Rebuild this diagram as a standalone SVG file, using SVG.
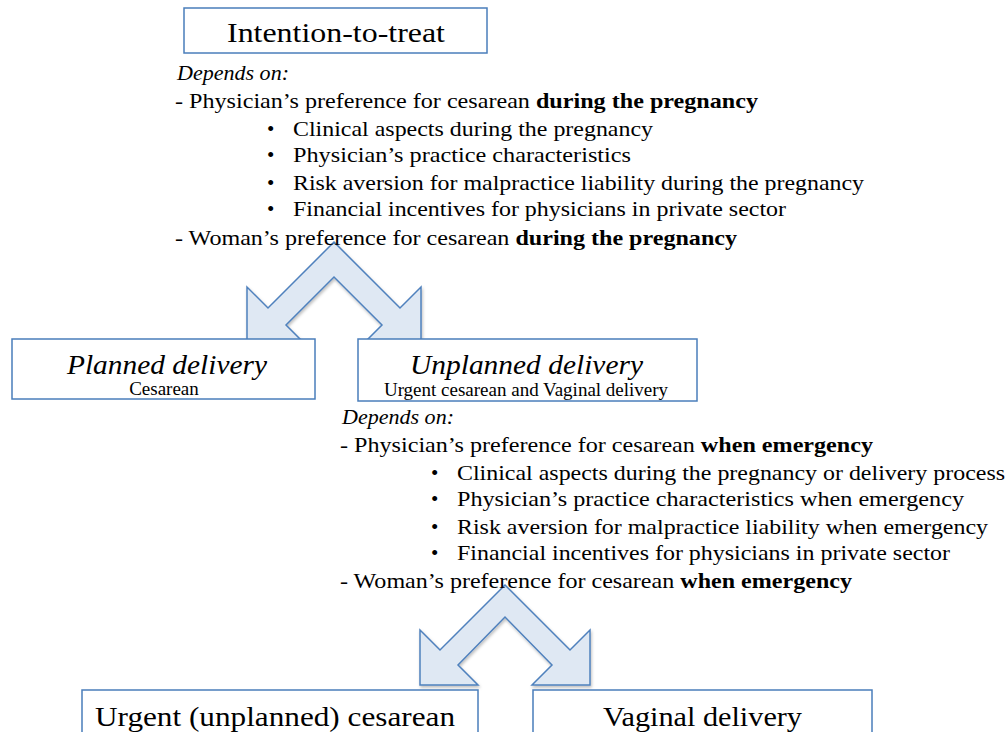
<svg xmlns="http://www.w3.org/2000/svg" width="1008" height="732" viewBox="0 0 1008 732">
<style>
  .box { fill: #ffffff; stroke: #4a7ebb; stroke-width: 1.5; }
  .arrow { fill: #dfe8f3; stroke: #4f81bd; stroke-width: 1.5; stroke-linejoin: miter; }
  .t { font-family: "Liberation Serif", "Times New Roman", serif; fill: #000000; }
  .body { font-size: 21px; }
  .big { font-size: 27px; }
  .sub { font-size: 19px; }
  .it { font-style: italic; }
  .b { font-weight: bold; }
</style>
<defs>
  <filter id="shadow" x="-10%" y="-10%" width="130%" height="130%">
    <feDropShadow dx="1" dy="2" stdDeviation="1.5" flood-color="#000000" flood-opacity="0.25"/>
  </filter>
</defs>
<rect width="1008" height="732" fill="#ffffff"/>

<g id="connectors">
  <path id="arrow-top" class="arrow" filter="url(#shadow)" d="M334,242 L400,308 L421,287 L421,345 L362,345 L382,325 L334,277 L286,325 L306,345 L247,345 L247,287 L268,308 Z"/>
  <path id="arrow-bottom" class="arrow" filter="url(#shadow)" d="M505,585 L570,650 L590,630 L590,685 L532,685 L552,665 L505,617 L458,665 L478,685 L420,685 L420,630 L440,650 Z"/>
</g>

<g id="node-itt">
  <rect class="box" x="184" y="8" width="303" height="45"/>
  <text class="t big" x="336" y="42" text-anchor="middle" textLength="218" lengthAdjust="spacingAndGlyphs">Intention-to-treat</text>
</g>

<g id="text-top">
  <text class="t body it" x="177" y="80" textLength="112" lengthAdjust="spacingAndGlyphs">Depends on:</text>
  <text class="t body" x="175" y="108" textLength="583" lengthAdjust="spacingAndGlyphs">- Physician’s preference for cesarean <tspan class="b">during the pregnancy</tspan></text>
  <text class="t body" x="267" y="136">•</text>
  <text class="t body" x="293" y="136" textLength="360" lengthAdjust="spacingAndGlyphs">Clinical aspects during the pregnancy</text>
  <text class="t body" x="267" y="162">•</text>
  <text class="t body" x="293" y="162" textLength="338" lengthAdjust="spacingAndGlyphs">Physician’s practice characteristics</text>
  <text class="t body" x="267" y="190">•</text>
  <text class="t body" x="293" y="190" textLength="571" lengthAdjust="spacingAndGlyphs">Risk aversion for malpractice liability during the pregnancy</text>
  <text class="t body" x="267" y="216">•</text>
  <text class="t body" x="293" y="216" textLength="493" lengthAdjust="spacingAndGlyphs">Financial incentives for physicians in private sector</text>
  <text class="t body" x="175" y="245" textLength="562" lengthAdjust="spacingAndGlyphs">- Woman’s preference for cesarean <tspan class="b">during the pregnancy</tspan></text>
</g>

<g id="node-planned">
  <rect class="box" x="12" y="339" width="303" height="60"/>
  <text class="t big it" x="167" y="374" text-anchor="middle" textLength="200" lengthAdjust="spacingAndGlyphs">Planned delivery</text>
  <text class="t sub" x="164" y="395" text-anchor="middle">Cesarean</text>
</g>

<g id="node-unplanned">
  <rect class="box" x="358" y="339" width="339" height="62"/>
  <text class="t big it" x="526.5" y="374" text-anchor="middle" textLength="233" lengthAdjust="spacingAndGlyphs">Unplanned delivery</text>
  <text class="t sub" x="526" y="396" text-anchor="middle">Urgent cesarean and Vaginal delivery</text>
</g>

<g id="text-bottom">
  <text class="t body it" x="342" y="424" textLength="112" lengthAdjust="spacingAndGlyphs">Depends on:</text>
  <text class="t body" x="340" y="452" textLength="533" lengthAdjust="spacingAndGlyphs">- Physician’s preference for cesarean <tspan class="b">when emergency</tspan></text>
  <text class="t body" x="431" y="480">•</text>
  <text class="t body" x="457" y="480" textLength="548" lengthAdjust="spacingAndGlyphs">Clinical aspects during the pregnancy or delivery process</text>
  <text class="t body" x="431" y="506">•</text>
  <text class="t body" x="457" y="506" textLength="507" lengthAdjust="spacingAndGlyphs">Physician’s practice characteristics when emergency</text>
  <text class="t body" x="431" y="534">•</text>
  <text class="t body" x="457" y="534" textLength="531" lengthAdjust="spacingAndGlyphs">Risk aversion for malpractice liability when emergency</text>
  <text class="t body" x="431" y="560">•</text>
  <text class="t body" x="457" y="560" textLength="493" lengthAdjust="spacingAndGlyphs">Financial incentives for physicians in private sector</text>
  <text class="t body" x="340" y="588" textLength="512" lengthAdjust="spacingAndGlyphs">- Woman’s preference for cesarean <tspan class="b">when emergency</tspan></text>
</g>

<g id="node-urgent">
  <rect class="box" x="82" y="690" width="396" height="60"/>
  <text class="t big" x="95" y="726" textLength="360" lengthAdjust="spacingAndGlyphs">Urgent (unplanned) cesarean</text>
</g>

<g id="node-vaginal">
  <rect class="box" x="533" y="690" width="339" height="60"/>
  <text class="t big" x="702.5" y="726" text-anchor="middle" textLength="199" lengthAdjust="spacingAndGlyphs">Vaginal delivery</text>
</g>
</svg>
